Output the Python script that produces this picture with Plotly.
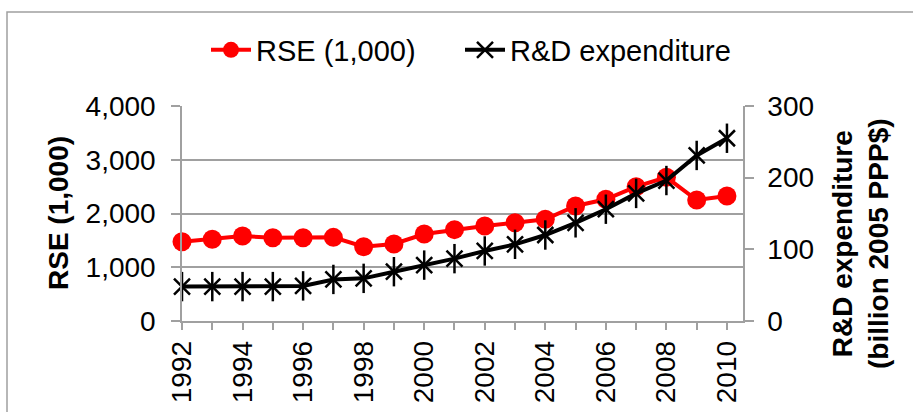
import plotly.graph_objects as go

years = list(range(1992, 2011))
rse = [1475, 1520, 1581, 1550, 1550, 1556, 1383, 1433, 1619, 1700,
       1767, 1829, 1892, 2140, 2264, 2499, 2673, 2251, 2326]
rnd = [48, 48, 48, 48, 49, 58, 59.5, 68.8, 78, 87,
       97.7, 107, 120, 137, 156, 178, 196, 231, 255]
left_ticks = [0, 1000, 2000, 3000, 4000]
left_labels = ["0", "1,000", "2,000", "3,000", "4,000"]
right_ticks = [0, 100, 200, 300]
x_labels = [str(y) if (y % 2 == 0) else "" for y in years]

FONT = "Liberation Sans, Arial, sans-serif"
GRAY = "#a0a0a0"

fig = go.Figure()
fig.add_trace(go.Scatter(
    x=years, y=rse, name="RSE (1,000)", mode="lines+markers",
    line=dict(color="#ff0000", width=4),
    marker=dict(symbol="circle", size=19, color="#ff0000"),
    cliponaxis=False, yaxis="y", legend="legend"))
fig.add_trace(go.Scatter(
    x=years, y=rnd, name="R&D expenditure", mode="lines+markers",
    line=dict(color="#000000", width=4),
    marker=dict(symbol="x-thin-open", size=16, color="#000000",
                line=dict(color="#000000", width=2.5)),
    cliponaxis=False, yaxis="y2", legend="legend2"))
fig.add_trace(go.Scatter(
    x=years, y=rnd, showlegend=False, mode="markers", hoverinfo="skip",
    marker=dict(symbol="line-ns-open", size=21, color="#000000",
                line=dict(color="#000000", width=2.5)),
    cliponaxis=False, yaxis="y2"))

W, H = 913, 412
L, R, T, B = 182, 170, 106, 91
pw, ph = W - L - R, H - T - B

def px(x):
    return (x - L) / pw

def py(y):
    return (H - B - y) / ph

legend_common = dict(orientation="h", y=py(50), xanchor="left", yanchor="middle",
                     font=dict(size=29), itemwidth=40, bgcolor="rgba(0,0,0,0)")

fig.update_layout(
    width=W, height=H,
    margin=dict(l=L, r=R, t=T, b=B, autoexpand=False),
    paper_bgcolor="white", plot_bgcolor="white",
    font=dict(family=FONT, size=28, color="#000000"),
    showlegend=True,
    legend=dict(x=px(206), **legend_common),
    legend2=dict(x=px(460), **legend_common),
    xaxis=dict(
        range=[1992, 2010.53], tickvals=years, ticktext=x_labels,
        tickangle=-90, ticks="outside", ticklen=7, tickcolor=GRAY, tickwidth=1.5,
        showline=True, linecolor=GRAY, linewidth=1.5, showgrid=False, zeroline=False,
        tickfont=dict(size=28), fixedrange=True),
    yaxis=dict(
        range=[0, 4000], tickvals=left_ticks, ticktext=left_labels,
        ticks="outside", ticklen=9, tickcolor=GRAY, tickwidth=1.5,
        showline=True, linecolor=GRAY, linewidth=1.5,
        showgrid=True, gridcolor=GRAY, gridwidth=1.5, zeroline=False,
        tickfont=dict(size=28), ticklabelstandoff=10),
    yaxis2=dict(
        range=[0, 300], tickvals=right_ticks, overlaying="y", side="right",
        ticks="outside", ticklen=9, tickcolor=GRAY, tickwidth=1.5,
        showline=True, linecolor=GRAY, linewidth=1.5,
        showgrid=False, zeroline=False,
        tickfont=dict(size=28), ticklabelstandoff=8),
    shapes=[dict(type="rect", xref="paper", yref="paper",
                 x0=px(7), x1=px(W + 20), y0=py(H + 20), y1=py(12),
                 line=dict(color=GRAY, width=1.5), fillcolor="rgba(0,0,0,0)", layer="below")],
    annotations=[
        dict(text="<b>RSE (1,000)</b>", xref="paper", yref="paper",
             x=px(58), y=py(213), xanchor="center", yanchor="middle",
             textangle=-90, showarrow=False, font=dict(size=28)),
        dict(text="<b>R&D expenditure<br>(billion 2005 PPP$)</b>", xref="paper", yref="paper",
             x=px(860), y=py(244), xanchor="center", yanchor="middle",
             textangle=-90, showarrow=False, font=dict(size=28)),
    ],
)

fig.write_html("out.html", config={"displayModeBar": False},
               post_script="document.body.style.margin='0';document.body.style.overflow='hidden';")
